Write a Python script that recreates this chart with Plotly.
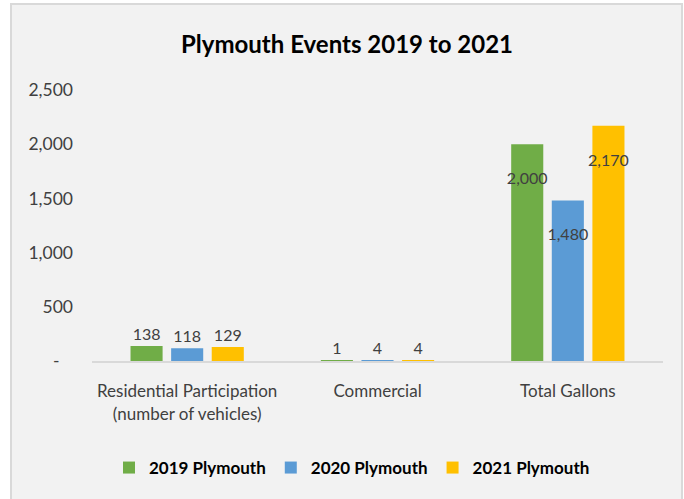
import plotly.graph_objects as go

categories = ["Residential Participation<br>(number of vehicles)", "Commercial", "Total Gallons"]
series_names = ["2019 Plymouth", "2020 Plymouth", "2021 Plymouth"]
values_2019 = [138, 1, 2000]
values_2020 = [118, 4, 1480]
values_2021 = [129, 4, 2170]
colors = ["#70AD47", "#5B9BD5", "#FFC000"]
tick_vals = [0, 500, 1000, 1500, 2000, 2500]
tick_text = ["-\u00a0\u00a0\u00a0", "500", "1,000", "1,500", "2,000", "2,500"]

FONT = "Lato"
W, H = 684, 499
L, R, T, B = 92, 21, 90, 138

fig = go.Figure()
for name, vals, col in zip(series_names, [values_2019, values_2020, values_2021], colors):
    positions = ["inside" if v > 1000 else "outside" for v in vals]
    labels = [("\u00a0<br>" if v > 1000 else "") + f"{v:,}" for v in vals]
    fig.add_trace(go.Bar(
        x=categories, y=vals, name=name,
        marker=dict(color=col, line=dict(width=0)),
        text=labels,
        textposition=positions,
        insidetextanchor="end",
        textangle=0,
        textfont=dict(family=FONT, size=16, color="#404040"),
        cliponaxis=False,
        hoverinfo="skip",
    ))

pw, ph = W - L - R, H - T - B
def px(x):
    return (x - L) / pw
def py(y):
    return (H - B - y) / ph

fig.add_shape(type="rect", xref="paper", yref="paper",
              x0=px(11), x1=px(682), y0=py(505), y1=py(4),
              fillcolor="#F2F2F2", line=dict(color="#D9D9D9", width=2), layer="below")

fig.update_layout(
    width=W, height=H,
    margin=dict(l=L, r=R, t=T, b=B, autoexpand=False),
    paper_bgcolor="white", plot_bgcolor="#F2F2F2",
    barmode="group", bargap=0.36, bargroupgap=0.21,
    uniformtext=dict(minsize=16, mode="show"),
    title=dict(text="<b>Plymouth Events 2019 to 2021</b>", x=px(347), xanchor="center",
               xref="paper",
               y=1 - 45 / H, yanchor="middle",
               font=dict(family=FONT, size=24, color="#000000")),
    font=dict(family=FONT, size=17, color="#404040"),
    xaxis=dict(showline=True, linecolor="#D9D9D9", linewidth=2, showgrid=False,
               ticks="", tickfont=dict(family=FONT, size=17, color="#404040"),
               ticklabelstandoff=14, zeroline=False),
    yaxis=dict(range=[0, 2500], tickvals=tick_vals, ticktext=tick_text,
               showgrid=False, zeroline=False, showline=False, ticks="",
               tickfont=dict(family=FONT, size=17.5, color="#404040"),
               ticklabelstandoff=18),
    legend=dict(orientation="h", x=px(352), xanchor="center", y=py(468), yanchor="middle",
                font=dict(family=FONT, size=17, color="#000000", weight="bold"),
                bgcolor="rgba(0,0,0,0)", itemwidth=30, traceorder="normal"),
    showlegend=True,
)

fig.write_html("out.html", config={"displayModeBar": False},
               post_script="document.body.style.margin='0';document.body.style.overflow='hidden';")
